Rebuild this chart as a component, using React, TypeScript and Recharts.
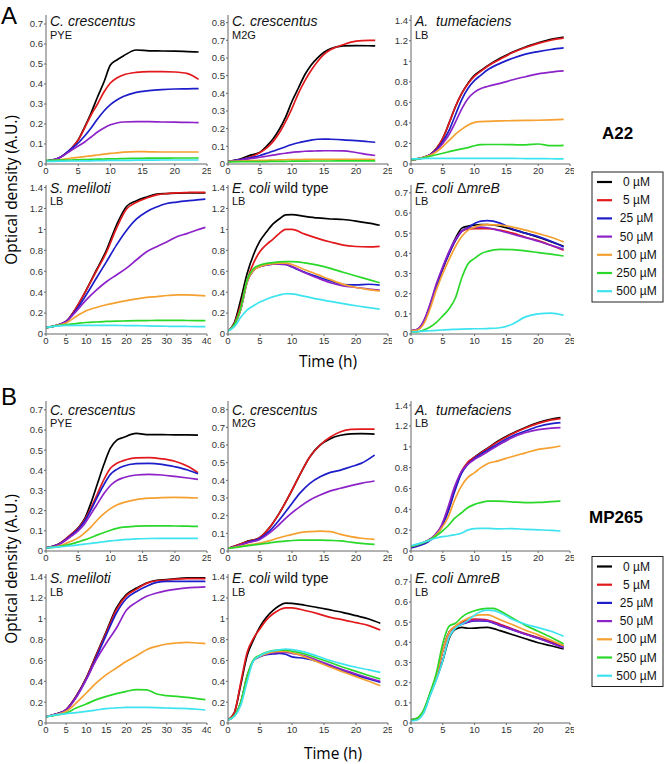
import React from 'react';
import { LineChart, Line, XAxis, YAxis } from 'recharts';

// ---------- shared labels ----------
const CONC = ['0 \u00b5M', '5 \u00b5M', '25 \u00b5M', '50 \u00b5M', '100 \u00b5M', '250 \u00b5M', '500 \u00b5M'];
const COLORS = ['#000000', '#e2191c', '#1d1dc9', '#8c22c8', '#f5a030', '#2ad82a', '#3de3ef'];
const X25 = [0, 5, 10, 15, 20, 25];
const X40 = [0, 5, 10, 15, 20, 25, 30, 35, 40];
const Y07 = [0, 0.1, 0.2, 0.3, 0.4, 0.5, 0.6, 0.7];
const Y08 = [0, 0.1, 0.2, 0.3, 0.4, 0.5, 0.6, 0.7, 0.8];
const Y14 = [0, 0.2, 0.4, 0.6, 0.8, 1, 1.2, 1.4];

// ---------- A22 : C. crescentus PYE ----------
const A1_T = [0, 2, 4, 5, 6, 7, 8, 9, 10, 11, 12, 14, 16, 18, 20, 22, 23.7];
const A1_0 = [0.015, 0.03, 0.08, 0.12, 0.185, 0.255, 0.335, 0.41, 0.495, 0.52, 0.54, 0.57, 0.566, 0.565, 0.564, 0.562, 0.56];
const A1_5 = [0.015, 0.03, 0.08, 0.12, 0.18, 0.245, 0.3, 0.36, 0.405, 0.43, 0.445, 0.458, 0.462, 0.462, 0.46, 0.452, 0.423];
const A1_25 = [0.015, 0.03, 0.078, 0.105, 0.14, 0.18, 0.225, 0.265, 0.297, 0.32, 0.337, 0.358, 0.367, 0.372, 0.375, 0.376, 0.377];
const A1_50 = [0.015, 0.03, 0.07, 0.09, 0.11, 0.135, 0.16, 0.18, 0.196, 0.205, 0.21, 0.212, 0.212, 0.21, 0.209, 0.208, 0.207];
const A1_100 = [0.015, 0.02, 0.03, 0.033, 0.037, 0.041, 0.045, 0.049, 0.053, 0.056, 0.059, 0.062, 0.061, 0.06, 0.06, 0.06, 0.06];
const A1_250 = [0.018, 0.019, 0.02, 0.021, 0.022, 0.023, 0.024, 0.025, 0.026, 0.026, 0.027, 0.028, 0.029, 0.029, 0.03, 0.03, 0.03];
const A1_500 = [0.013, 0.014, 0.015, 0.015, 0.016, 0.016, 0.017, 0.017, 0.018, 0.018, 0.018, 0.019, 0.019, 0.02, 0.02, 0.02, 0.02];

// ---------- A22 : C. crescentus M2G ----------
const A2_T = [0, 2, 3.5, 5, 6, 7, 8, 9, 10, 11, 12, 13, 14, 15, 16, 18, 20, 22, 23];
const A2_0 = [0.015, 0.03, 0.05, 0.066, 0.1, 0.14, 0.195, 0.265, 0.355, 0.43, 0.505, 0.56, 0.6, 0.632, 0.652, 0.668, 0.67, 0.669, 0.668];
const A2_5 = [0.015, 0.025, 0.04, 0.065, 0.09, 0.125, 0.175, 0.24, 0.315, 0.4, 0.47, 0.53, 0.58, 0.62, 0.646, 0.675, 0.695, 0.7, 0.7];
const A2_25 = [0.015, 0.025, 0.035, 0.048, 0.06, 0.072, 0.085, 0.098, 0.11, 0.12, 0.128, 0.135, 0.14, 0.141, 0.14, 0.137, 0.132, 0.126, 0.123];
const A2_50 = [0.015, 0.022, 0.03, 0.038, 0.044, 0.05, 0.056, 0.061, 0.066, 0.069, 0.072, 0.073, 0.074, 0.075, 0.075, 0.074, 0.065, 0.053, 0.048];
const A2_100 = [0.015, 0.017, 0.019, 0.02, 0.021, 0.022, 0.023, 0.024, 0.025, 0.025, 0.026, 0.026, 0.026, 0.026, 0.026, 0.026, 0.026, 0.026, 0.025];
const A2_250 = [0.012, 0.013, 0.013, 0.014, 0.014, 0.015, 0.015, 0.015, 0.016, 0.016, 0.016, 0.017, 0.017, 0.017, 0.017, 0.018, 0.018, 0.018, 0.018];

// ---------- A22 : A. tumefaciens LB ----------
const A3_T = [0, 2, 3, 4, 5, 6, 7, 8, 9, 10, 11, 12, 14, 16, 18, 20, 22, 24];
const A3_0 = [0.04, 0.065, 0.09, 0.15, 0.25, 0.4, 0.56, 0.69, 0.79, 0.865, 0.91, 0.955, 1.03, 1.09, 1.14, 1.18, 1.215, 1.237];
const A3_5 = [0.04, 0.065, 0.09, 0.15, 0.25, 0.4, 0.56, 0.69, 0.785, 0.855, 0.905, 0.95, 1.02, 1.085, 1.135, 1.175, 1.205, 1.225];
const A3_25 = [0.04, 0.065, 0.09, 0.14, 0.22, 0.33, 0.48, 0.63, 0.74, 0.815, 0.865, 0.915, 0.98, 1.03, 1.07, 1.095, 1.115, 1.13];
const A3_50 = [0.04, 0.065, 0.088, 0.13, 0.2, 0.29, 0.41, 0.54, 0.64, 0.7, 0.735, 0.755, 0.785, 0.82, 0.85, 0.878, 0.895, 0.906];
const A3_100 = [0.04, 0.065, 0.085, 0.12, 0.17, 0.23, 0.29, 0.34, 0.38, 0.405, 0.413, 0.416, 0.42, 0.422, 0.424, 0.426, 0.43, 0.435];
const A3_250 = [0.04, 0.06, 0.075, 0.09, 0.105, 0.12, 0.135, 0.148, 0.16, 0.178, 0.188, 0.19, 0.19, 0.188, 0.186, 0.195, 0.178, 0.182];
const A3_500 = [0.05, 0.053, 0.055, 0.055, 0.055, 0.055, 0.055, 0.055, 0.055, 0.055, 0.055, 0.055, 0.054, 0.054, 0.053, 0.052, 0.051, 0.05];

// ---------- A22 : S. meliloti LB ----------
const A4_T = [0, 2.5, 5, 7.5, 10, 12.5, 15, 17.5, 20, 22.5, 25, 27.5, 30, 32.5, 35, 37.5, 39.6];
const A4_0 = [0.06, 0.08, 0.12, 0.25, 0.42, 0.61, 0.8, 1.04, 1.22, 1.275, 1.31, 1.337, 1.343, 1.347, 1.35, 1.35, 1.35];
const A4_5 = [0.06, 0.08, 0.12, 0.25, 0.42, 0.6, 0.78, 1.01, 1.195, 1.26, 1.3, 1.33, 1.343, 1.35, 1.353, 1.355, 1.355];
const A4_25 = [0.06, 0.08, 0.12, 0.23, 0.375, 0.533, 0.69, 0.85, 0.99, 1.1, 1.17, 1.215, 1.248, 1.262, 1.273, 1.282, 1.29];
const A4_50 = [0.06, 0.08, 0.12, 0.216, 0.327, 0.42, 0.5, 0.565, 0.63, 0.71, 0.787, 0.835, 0.88, 0.93, 0.96, 0.994, 1.02];
const A4_100 = [0.06, 0.08, 0.105, 0.168, 0.222, 0.254, 0.28, 0.3, 0.32, 0.336, 0.35, 0.358, 0.368, 0.375, 0.375, 0.37, 0.365];
const A4_250 = [0.06, 0.078, 0.09, 0.1, 0.11, 0.115, 0.12, 0.123, 0.125, 0.127, 0.128, 0.13, 0.13, 0.13, 0.129, 0.128, 0.127];
const A4_500 = [0.06, 0.075, 0.083, 0.083, 0.083, 0.083, 0.083, 0.082, 0.081, 0.08, 0.078, 0.076, 0.074, 0.073, 0.072, 0.071, 0.07];

// ---------- A22 : E. coli wild type LB ----------
const A5_T = [0, 1, 2, 3, 4, 5, 6, 7, 8, 9, 10, 12, 14, 16, 18, 20, 22, 23.7];
const A5_0 = [0.03, 0.11, 0.33, 0.58, 0.76, 0.89, 0.975, 1.05, 1.1, 1.14, 1.142, 1.125, 1.11, 1.1, 1.095, 1.08, 1.06, 1.04];
const A5_5 = [0.03, 0.1, 0.28, 0.52, 0.68, 0.79, 0.855, 0.905, 0.96, 1.0, 1.0, 0.955, 0.915, 0.88, 0.85, 0.837, 0.833, 0.838];
const A5_25 = [0.03, 0.09, 0.24, 0.5, 0.61, 0.645, 0.66, 0.668, 0.668, 0.665, 0.64, 0.59, 0.548, 0.508, 0.473, 0.47, 0.476, 0.467];
const A5_50 = [0.03, 0.09, 0.24, 0.5, 0.61, 0.645, 0.66, 0.668, 0.668, 0.665, 0.645, 0.585, 0.535, 0.49, 0.46, 0.445, 0.43, 0.42];
const A5_100 = [0.03, 0.09, 0.24, 0.5, 0.61, 0.645, 0.662, 0.672, 0.678, 0.678, 0.665, 0.615, 0.568, 0.52, 0.475, 0.445, 0.425, 0.41];
const A5_250 = [0.03, 0.09, 0.25, 0.52, 0.625, 0.66, 0.675, 0.683, 0.69, 0.692, 0.692, 0.68, 0.658, 0.628, 0.59, 0.555, 0.52, 0.49];
const A5_500 = [0.03, 0.07, 0.16, 0.23, 0.27, 0.305, 0.333, 0.355, 0.372, 0.385, 0.383, 0.36, 0.333, 0.312, 0.29, 0.27, 0.253, 0.238];

// ---------- A22 : E. coli ΔmreB LB ----------
const A6_T = [0, 1, 2, 3, 4, 5, 6, 7, 8, 9, 10, 11, 12, 14, 16, 18, 20, 22, 24];
const A6_0 = [0.015, 0.022, 0.06, 0.14, 0.24, 0.325, 0.405, 0.475, 0.525, 0.535, 0.54, 0.543, 0.543, 0.535, 0.518, 0.5, 0.48, 0.458, 0.435];
const A6_5 = [0.015, 0.022, 0.06, 0.14, 0.24, 0.325, 0.4, 0.465, 0.51, 0.52, 0.523, 0.523, 0.523, 0.515, 0.5, 0.48, 0.463, 0.44, 0.415];
const A6_25 = [0.015, 0.022, 0.06, 0.14, 0.24, 0.325, 0.4, 0.465, 0.51, 0.53, 0.548, 0.56, 0.562, 0.55, 0.52, 0.5, 0.483, 0.46, 0.432];
const A6_50 = [0.015, 0.023, 0.065, 0.15, 0.25, 0.335, 0.41, 0.47, 0.51, 0.525, 0.528, 0.53, 0.527, 0.512, 0.495, 0.478, 0.46, 0.44, 0.42];
const A6_100 = [0.015, 0.02, 0.05, 0.125, 0.22, 0.3, 0.37, 0.435, 0.485, 0.515, 0.53, 0.54, 0.542, 0.54, 0.53, 0.515, 0.498, 0.48, 0.457];
const A6_250 = [0.01, 0.01, 0.02, 0.035, 0.058, 0.09, 0.125, 0.18, 0.28, 0.35, 0.375, 0.398, 0.41, 0.42, 0.418, 0.412, 0.404, 0.396, 0.387];
const A6_500 = [0.01, 0.012, 0.014, 0.016, 0.018, 0.02, 0.022, 0.023, 0.024, 0.025, 0.026, 0.026, 0.027, 0.031, 0.05, 0.085, 0.1, 0.104, 0.093];

// ---------- MP265 : C. crescentus PYE ----------
const B1_T = [0, 2, 4, 5, 6, 7, 8, 9, 10, 11, 12, 14, 16, 18, 20, 22, 23.6];
const B1_0 = [0.015, 0.035, 0.085, 0.115, 0.16, 0.24, 0.335, 0.43, 0.51, 0.55, 0.563, 0.583, 0.577, 0.577, 0.576, 0.576, 0.575];
const B1_5 = [0.015, 0.035, 0.085, 0.113, 0.155, 0.215, 0.285, 0.355, 0.41, 0.435, 0.448, 0.462, 0.463, 0.457, 0.445, 0.42, 0.388];
const B1_25 = [0.015, 0.033, 0.08, 0.108, 0.148, 0.205, 0.27, 0.33, 0.38, 0.405, 0.42, 0.433, 0.435, 0.43, 0.418, 0.402, 0.383];
const B1_50 = [0.015, 0.032, 0.075, 0.1, 0.135, 0.185, 0.235, 0.285, 0.325, 0.35, 0.363, 0.377, 0.38, 0.377, 0.37, 0.362, 0.355];
const B1_100 = [0.015, 0.025, 0.05, 0.065, 0.09, 0.12, 0.155, 0.185, 0.21, 0.228, 0.24, 0.255, 0.262, 0.265, 0.266, 0.265, 0.263];
const B1_250 = [0.015, 0.022, 0.035, 0.045, 0.055, 0.067, 0.08, 0.092, 0.103, 0.112, 0.118, 0.123, 0.125, 0.125, 0.124, 0.123, 0.122];
const B1_500 = [0.015, 0.02, 0.027, 0.03, 0.034, 0.038, 0.042, 0.046, 0.05, 0.053, 0.056, 0.06, 0.062, 0.063, 0.063, 0.063, 0.063];

// ---------- MP265 : C. crescentus M2G ----------
const B2_T = [0, 1.6, 3.2, 4.8, 6.4, 8, 9.6, 11.2, 12.8, 14.4, 16, 17.6, 19.2, 20.8, 22.9];
const B2_0 = [0.015, 0.035, 0.057, 0.072, 0.128, 0.213, 0.317, 0.43, 0.534, 0.6, 0.636, 0.655, 0.663, 0.664, 0.662];
const B2_5 = [0.015, 0.035, 0.055, 0.072, 0.128, 0.213, 0.317, 0.43, 0.534, 0.6, 0.645, 0.675, 0.688, 0.69, 0.69];
const B2_25 = [0.015, 0.03, 0.05, 0.068, 0.11, 0.175, 0.25, 0.326, 0.383, 0.42, 0.445, 0.458, 0.477, 0.496, 0.543];
const B2_50 = [0.015, 0.03, 0.048, 0.062, 0.1, 0.15, 0.204, 0.25, 0.289, 0.317, 0.34, 0.355, 0.37, 0.383, 0.396];
const B2_100 = [0.015, 0.025, 0.035, 0.043, 0.057, 0.075, 0.09, 0.104, 0.11, 0.113, 0.11, 0.094, 0.081, 0.072, 0.066];
const B2_250 = [0.015, 0.022, 0.03, 0.038, 0.045, 0.053, 0.058, 0.062, 0.062, 0.062, 0.06, 0.057, 0.05, 0.043, 0.038];

// ---------- MP265 : A. tumefaciens LB ----------
const B3_T = [0, 1.5, 2.6, 3.7, 4.7, 5.8, 6.8, 7.9, 8.9, 10, 11, 12.1, 13.7, 15.8, 17.9, 20, 22.1, 23.5];
const B3_0 = [0.045, 0.07, 0.096, 0.144, 0.224, 0.384, 0.576, 0.75, 0.845, 0.9, 0.945, 0.99, 1.056, 1.126, 1.184, 1.232, 1.266, 1.28];
const B3_5 = [0.045, 0.07, 0.096, 0.144, 0.224, 0.39, 0.585, 0.76, 0.85, 0.9, 0.94, 0.985, 1.05, 1.12, 1.178, 1.225, 1.258, 1.27];
const B3_25 = [0.03, 0.055, 0.085, 0.135, 0.215, 0.37, 0.56, 0.74, 0.83, 0.89, 0.93, 0.97, 1.03, 1.1, 1.15, 1.195, 1.222, 1.232];
const B3_50 = [0.045, 0.07, 0.1, 0.15, 0.235, 0.416, 0.608, 0.76, 0.83, 0.88, 0.915, 0.955, 1.015, 1.085, 1.135, 1.165, 1.18, 1.184];
const B3_100 = [0.045, 0.07, 0.095, 0.14, 0.21, 0.32, 0.48, 0.62, 0.704, 0.752, 0.8, 0.84, 0.865, 0.905, 0.94, 0.975, 0.992, 1.008];
const B3_250 = [0.045, 0.07, 0.096, 0.135, 0.18, 0.24, 0.31, 0.365, 0.416, 0.448, 0.465, 0.478, 0.478, 0.472, 0.464, 0.466, 0.474, 0.48];
const B3_500 = [0.05, 0.075, 0.096, 0.12, 0.135, 0.144, 0.155, 0.17, 0.2, 0.215, 0.218, 0.218, 0.212, 0.215, 0.208, 0.203, 0.198, 0.192];

// ---------- MP265 : S. meliloti LB ----------
const B4_T = [0, 2.5, 5, 7.5, 10, 12.5, 15, 17.5, 20, 22.5, 25, 27.5, 30, 32.5, 35, 37.5, 39.6];
const B4_0 = [0.06, 0.085, 0.128, 0.256, 0.432, 0.656, 0.88, 1.104, 1.235, 1.295, 1.344, 1.37, 1.376, 1.385, 1.392, 1.392, 1.392];
const B4_5 = [0.06, 0.085, 0.128, 0.256, 0.43, 0.65, 0.87, 1.088, 1.222, 1.285, 1.34, 1.365, 1.372, 1.38, 1.385, 1.386, 1.386];
const B4_25 = [0.06, 0.085, 0.125, 0.25, 0.42, 0.63, 0.848, 1.056, 1.195, 1.262, 1.312, 1.35, 1.36, 1.36, 1.36, 1.36, 1.36];
const B4_50 = [0.06, 0.085, 0.125, 0.245, 0.416, 0.608, 0.768, 0.912, 1.085, 1.16, 1.216, 1.248, 1.27, 1.285, 1.296, 1.302, 1.306];
const B4_100 = [0.06, 0.08, 0.112, 0.192, 0.288, 0.384, 0.464, 0.528, 0.592, 0.645, 0.704, 0.736, 0.758, 0.768, 0.774, 0.768, 0.762];
const B4_250 = [0.06, 0.075, 0.096, 0.144, 0.182, 0.224, 0.256, 0.282, 0.304, 0.32, 0.318, 0.278, 0.262, 0.256, 0.246, 0.234, 0.224];
const B4_500 = [0.06, 0.078, 0.09, 0.1, 0.112, 0.125, 0.138, 0.145, 0.15, 0.15, 0.15, 0.148, 0.144, 0.141, 0.138, 0.132, 0.125];

// ---------- MP265 : E. coli wild type LB ----------
const B5_T = [0, 1, 2, 3, 4, 5, 6, 7, 8, 9, 10, 12, 14, 16, 18, 20, 22, 23.8];
const B5_0 = [0.03, 0.1, 0.37, 0.65, 0.8, 0.925, 1.014, 1.078, 1.125, 1.15, 1.148, 1.13, 1.108, 1.085, 1.06, 1.03, 0.998, 0.957];
const B5_5 = [0.03, 0.1, 0.39, 0.68, 0.815, 0.905, 0.99, 1.046, 1.085, 1.105, 1.105, 1.08, 1.05, 1.013, 0.99, 0.963, 0.935, 0.893];
const B5_25 = [0.03, 0.07, 0.2, 0.45, 0.6, 0.635, 0.655, 0.662, 0.668, 0.66, 0.635, 0.62, 0.59, 0.545, 0.5, 0.46, 0.422, 0.39];
const B5_50 = [0.03, 0.07, 0.2, 0.45, 0.6, 0.64, 0.66, 0.672, 0.678, 0.678, 0.668, 0.645, 0.6, 0.555, 0.51, 0.47, 0.432, 0.4];
const B5_100 = [0.03, 0.07, 0.2, 0.45, 0.6, 0.64, 0.665, 0.682, 0.688, 0.688, 0.675, 0.635, 0.585, 0.535, 0.49, 0.445, 0.4, 0.358];
const B5_250 = [0.03, 0.07, 0.2, 0.45, 0.61, 0.65, 0.678, 0.695, 0.7, 0.7, 0.69, 0.662, 0.622, 0.58, 0.535, 0.495, 0.456, 0.422];
const B5_500 = [0.03, 0.065, 0.17, 0.4, 0.6, 0.645, 0.676, 0.693, 0.703, 0.71, 0.705, 0.68, 0.64, 0.6, 0.565, 0.535, 0.51, 0.486];

// ---------- MP265 : E. coli ΔmreB LB ----------
const B6_T = [0, 1, 2, 3, 4, 5, 6, 7, 8, 9, 10, 11, 12, 13, 14, 16, 18, 20, 22, 24];
const B6_0 = [0.015, 0.02, 0.055, 0.14, 0.22, 0.31, 0.42, 0.465, 0.474, 0.47, 0.471, 0.473, 0.474, 0.468, 0.458, 0.438, 0.418, 0.398, 0.383, 0.367];
const B6_5 = [0.015, 0.022, 0.06, 0.145, 0.235, 0.36, 0.45, 0.48, 0.5, 0.51, 0.515, 0.514, 0.511, 0.502, 0.49, 0.466, 0.443, 0.424, 0.403, 0.383];
const B6_25 = [0.015, 0.022, 0.06, 0.145, 0.235, 0.36, 0.45, 0.475, 0.49, 0.5, 0.506, 0.507, 0.505, 0.495, 0.483, 0.462, 0.44, 0.421, 0.398, 0.375];
const B6_50 = [0.015, 0.022, 0.06, 0.145, 0.235, 0.36, 0.45, 0.478, 0.493, 0.503, 0.509, 0.51, 0.507, 0.497, 0.485, 0.463, 0.44, 0.42, 0.397, 0.372];
const B6_100 = [0.015, 0.022, 0.06, 0.145, 0.235, 0.36, 0.45, 0.48, 0.505, 0.52, 0.532, 0.536, 0.536, 0.527, 0.512, 0.487, 0.46, 0.437, 0.41, 0.383];
const B6_250 = [0.015, 0.025, 0.065, 0.15, 0.25, 0.395, 0.48, 0.495, 0.525, 0.545, 0.557, 0.565, 0.569, 0.569, 0.556, 0.52, 0.484, 0.455, 0.425, 0.392];
const B6_500 = [0.01, 0.015, 0.05, 0.135, 0.215, 0.31, 0.425, 0.47, 0.49, 0.51, 0.535, 0.553, 0.56, 0.557, 0.547, 0.513, 0.49, 0.473, 0.455, 0.43];

// ---------- layout ----------
const FONT = '"Liberation Sans", Arial, sans-serif';
const LABEL_FONT = '"Open Sans", "Liberation Sans", sans-serif';
const AXIS = '#666';

type Part = { text: string; italic?: boolean };
type Cfg = {
  t: number[]; series: (number[] | null)[];
  L: number; R: number; T: number; B: number;
  xMax: number; xTicks: number[]; yMax: number; yTicks: number[];
  title: Part[]; sub: string; titleY: number;
};

const COL = [[46, 207], [228, 388], [411, 570]];
const ROW = [[15, 164, 26], [185, 334, 192.5], [401, 551, 414.5], [574, 723, 583]];

const CC: Part[] = [{ text: 'C. crescentus', italic: true }];
const AT: Part[] = [{ text: 'A.  tumefaciens', italic: true }];
const SM: Part[] = [{ text: 'S. meliloti', italic: true }];
const EW: Part[] = [{ text: 'E. coli', italic: true }, { text: ' wild type' }];
const EM: Part[] = [{ text: 'E. coli ', italic: true }, { text: '\u0394' }, { text: 'mreB', italic: true }];

const mk = (r: number, c: number, t: number[], series: (number[] | null)[], xMax: number, xTicks: number[], yMax: number, yTicks: number[], title: Part[], sub: string): Cfg => ({
  t, series, L: COL[c][0], R: COL[c][1], T: ROW[r][0], B: ROW[r][1], titleY: ROW[r][2],
  xMax, xTicks, yMax, yTicks, title, sub,
});

const PANELS: Cfg[] = [
  mk(0, 0, A1_T, [A1_0, A1_5, A1_25, A1_50, A1_100, A1_250, A1_500], 25, X25, 0.745, Y07, CC, 'PYE'),
  mk(0, 1, A2_T, [A2_0, A2_5, A2_25, A2_50, A2_100, A2_250, null], 25, X25, 0.843, Y08, CC, 'M2G'),
  mk(0, 2, A3_T, [A3_0, A3_5, A3_25, A3_50, A3_100, A3_250, A3_500], 25, X25, 1.451, Y14, AT, 'LB'),
  mk(1, 0, A4_T, [A4_0, A4_5, A4_25, A4_50, A4_100, A4_250, A4_500], 40, X40, 1.425, Y14, SM, 'LB'),
  mk(1, 1, A5_T, [A5_0, A5_5, A5_25, A5_50, A5_100, A5_250, A5_500], 25, X25, 1.425, Y14, EW, 'LB'),
  mk(1, 2, A6_T, [A6_0, A6_5, A6_25, A6_50, A6_100, A6_250, A6_500], 25, X25, 0.739, Y07, EM, 'LB'),
  mk(2, 0, B1_T, [B1_0, B1_5, B1_25, B1_50, B1_100, B1_250, B1_500], 25, X25, 0.744, Y07, CC, 'PYE'),
  mk(2, 1, B2_T, [B2_0, B2_5, B2_25, B2_50, B2_100, B2_250, null], 25, X25, 0.849, Y08, CC, 'M2G'),
  mk(2, 2, B3_T, [B3_0, B3_5, B3_25, B3_50, B3_100, B3_250, B3_500], 25, X25, 1.44, Y14, AT, 'LB'),
  mk(3, 0, B4_T, [B4_0, B4_5, B4_25, B4_50, B4_100, B4_250, B4_500], 40, X40, 1.43, Y14, SM, 'LB'),
  mk(3, 1, B5_T, [B5_0, B5_5, B5_25, B5_50, B5_100, B5_250, B5_500], 25, X25, 1.43, Y14, EW, 'LB'),
  mk(3, 2, B6_T, [B6_0, B6_5, B6_25, B6_50, B6_100, B6_250, B6_500], 25, X25, 0.739, Y07, EM, 'LB'),
];

const fmt = (v: number) => String(+v.toFixed(1));

function rowsFor(t: number[], s: (number[] | null)[]) {
  return t.map((tv, i) => {
    const r: Record<string, number> = { t: tv };
    s.forEach((arr, k) => { if (arr) r['s' + k] = arr[i]; });
    return r;
  });
}

const PAD_L = 36, PAD_T = 4, PAD_R = 4, PAD_B = 22;

function Panel({ p }: { p: Cfg }) {
  const data = rowsFor(p.t, p.series);
  const tick = { fontSize: 9.5, fill: '#333', fontFamily: FONT };
  return (
    <div style={{ position: 'absolute', left: p.L - PAD_L, top: p.T - PAD_T }}>
      <LineChart width={p.R - p.L + PAD_L + PAD_R} height={p.B - p.T + PAD_T + PAD_B} data={data}
        margin={{ top: PAD_T, right: PAD_R, left: 0, bottom: 0 }}>
        <XAxis dataKey="t" type="number" domain={[0, p.xMax]} ticks={p.xTicks} interval={0} height={PAD_B}
          tickSize={2} tickMargin={1} axisLine={{ stroke: AXIS }} tickLine={{ stroke: AXIS }} tick={tick} allowDataOverflow />
        <YAxis type="number" domain={[0, p.yMax]} ticks={p.yTicks} interval={0} width={PAD_L} tickFormatter={fmt}
          tickSize={2} tickMargin={1} axisLine={{ stroke: AXIS }} tickLine={{ stroke: AXIS }} tick={tick} allowDataOverflow />
        {p.series.map((arr, k) => arr ? (
          <Line key={k} dataKey={'s' + k} type="monotone" stroke={COLORS[k]} strokeWidth={1.7}
            dot={false} activeDot={false} isAnimationActive={false} />
        ) : null)}
      </LineChart>
    </div>
  );
}

function LegendBox({ top }: { top: number }) {
  return (
    <g>
      <rect x={592} y={top} width={71} height={130} fill="#fff" stroke="#222" strokeWidth={1} />
      {CONC.map((c, i) => {
        const y = top + 10 + i * 18.2;
        return (
          <g key={c}>
            <line x1={597} x2={612} y1={y} y2={y} stroke={COLORS[i]} strokeWidth={2.2} />
            <text x={636.5} y={y} textAnchor="middle" dominantBaseline="central" fontSize={12} fontFamily={FONT} fill="#111">{c}</text>
          </g>
        );
      })}
    </g>
  );
}

export default function App() {
  return (
    <div style={{ position: 'absolute', left: 0, top: 0, width: 664, height: 764, background: '#fff', overflow: 'hidden' }}>
      {PANELS.map((p, i) => <Panel key={i} p={p} />)}
      <svg width={664} height={764} style={{ position: 'absolute', left: 0, top: 0, pointerEvents: 'none' }}>
        <text x={1} y={24} fontSize={24} fontFamily={FONT} fill="#000">A</text>
        <text x={1} y={405} fontSize={24} fontFamily={FONT} fill="#000">B</text>
        <text x={602} y={139} fontSize={17} fontWeight="bold" fontFamily={FONT} fill="#000">A22</text>
        <text x={589} y={523} fontSize={17} fontWeight="bold" fontFamily={FONT} fill="#000">MP265</text>
        <text x={17} y={190} transform="rotate(-90 17 190)" textAnchor="middle" fontSize={15.5} fontFamily={LABEL_FONT} fill="#000">Optical density (A.U.)</text>
        <text x={17} y={569} transform="rotate(-90 17 569)" textAnchor="middle" fontSize={15.5} fontFamily={LABEL_FONT} fill="#000">Optical density (A.U.)</text>
        <text x={328} y={367} textAnchor="middle" fontSize={15.5} fontFamily={LABEL_FONT} fill="#000">Time (h)</text>
        <text x={333} y={758.5} textAnchor="middle" fontSize={15.5} fontFamily={LABEL_FONT} fill="#000">Time (h)</text>
        {PANELS.map((p, i) => (
          <g key={i}>
            <text x={p.L + 4} y={p.titleY} fontSize={14} fontFamily={FONT} fill="#111" style={{ whiteSpace: 'pre' }}>
              {p.title.map((part, j) => (
                <tspan key={j} fontStyle={part.italic ? 'italic' : 'normal'}>{part.text}</tspan>
              ))}
            </text>
            <text x={p.L + 4} y={p.titleY + 12.5} fontSize={11} fontFamily={FONT} fill="#111">{p.sub}</text>
          </g>
        ))}
        <LegendBox top={172} />
        <LegendBox top={556.5} />
      </svg>
    </div>
  );
}
